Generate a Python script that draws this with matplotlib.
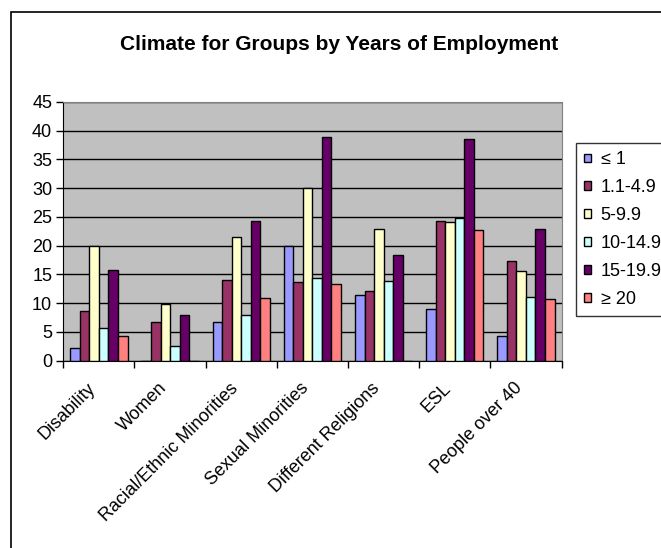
import numpy as np
import matplotlib
matplotlib.use("Agg")
import matplotlib.pyplot as plt
from matplotlib.patches import Rectangle
from matplotlib.transforms import ScaledTranslation

plt.rcParams['font.family'] = ['Liberation Sans', 'DejaVu Sans']

# grupos e faixas de anos de emprego
grupos = ['Disability', 'Women', 'Racial/Ethnic Minorities', 'Sexual Minorities',
          'Different Religions', 'ESL', 'People over 40']
faixas = ['≤ 1', '1.1-4.9', '5-9.9', '10-14.9', '15-19.9', '≥ 20']

ate1 = [2.2, 0, 6.8, 20.0, 11.4, 8.9, 4.3]
de1a5 = [8.7, 6.8, 14.0, 13.7, 12.1, 24.2, 17.4]
de5a10 = [20.0, 9.9, 21.5, 30.0, 22.9, 24.1, 15.6]
de10a15 = [5.6, 2.6, 8.0, 14.3, 13.8, 24.8, 11.1]
de15a20 = [15.7, 8.0, 24.2, 38.9, 18.4, 38.5, 22.9]
mais20 = [4.3, 0, 10.9, 13.3, 0, 22.8, 10.8]

cores = ['#9999FF', '#993366', '#FFFFCC', '#CCFFFF', '#660066', '#FF8080']
series = [ate1, de1a5, de5a10, de10a15, de15a20, mais20]

fig = plt.figure(figsize=(6.61, 5.48), dpi=100)
ax = fig.add_axes([0.0958, 0.3418, 0.7537, 0.4724])
ax.set_facecolor('#C0C0C0')

x = np.arange(len(grupos))
larg = 0.134  # largura de cada barra
for i, (vals, cor, nome) in enumerate(zip(series, cores, faixas)):
    pos = x - 3 * larg + (i + 0.5) * larg
    ax.bar(pos, vals, width=larg, color=cor, edgecolor='black', linewidth=1,
           label=nome, zorder=3)

ax.set_xlim(-0.5, len(grupos) - 0.5)
ax.set_ylim(0, 45)
ax.set_yticks(np.arange(0, 46, 5))
ax.yaxis.grid(True, color='black', linewidth=1, zorder=0)

# rótulos no centro, marcas entre as categorias
ax.set_xticks(x)
ax.set_xticks(np.arange(-0.5, len(grupos)), minor=True)
ax.tick_params(axis='x', which='major', length=0, pad=18)
ax.tick_params(axis='x', which='minor', length=5, width=1, direction='out')
ax.tick_params(axis='y', length=5, width=1, direction='out', pad=3)
ax.set_xticklabels(grupos, rotation=45, ha='right', va='center',
                   rotation_mode='anchor')
ax.tick_params(labelsize=13)
desloc = ScaledTranslation(-6 / 100, 0, fig.dpi_scale_trans)
for lab in ax.get_xticklabels():
    lab.set_transform(lab.get_transform() + desloc)

for lado in ['top', 'right']:
    ax.spines[lado].set_color('#808080')
for lado in ['left', 'bottom']:
    ax.spines[lado].set_color('black')

fig.text(0.513, 0.918, 'Climate for Groups by Years of Employment',
         ha='center', va='center', fontsize=15, fontweight='bold')

leg = fig.legend(loc='upper left', bbox_to_anchor=(0.871, 0.7385), fontsize=13,
                 frameon=True, fancybox=False, handlelength=0.38, handleheight=0.38,
                 handletextpad=0.55, labelspacing=0.6, borderpad=0.45,
                 borderaxespad=0)
leg.get_frame().set_edgecolor('black')
leg.get_frame().set_linewidth(1)

# moldura do gráfico
fig.patches.append(Rectangle((10.5 / 661, -0.1), 1.2, 0.1 + (548 - 11.8) / 548,
                             transform=fig.transFigure, fill=False,
                             edgecolor='black', linewidth=1.2))

fig.savefig('out.png', dpi=100)
